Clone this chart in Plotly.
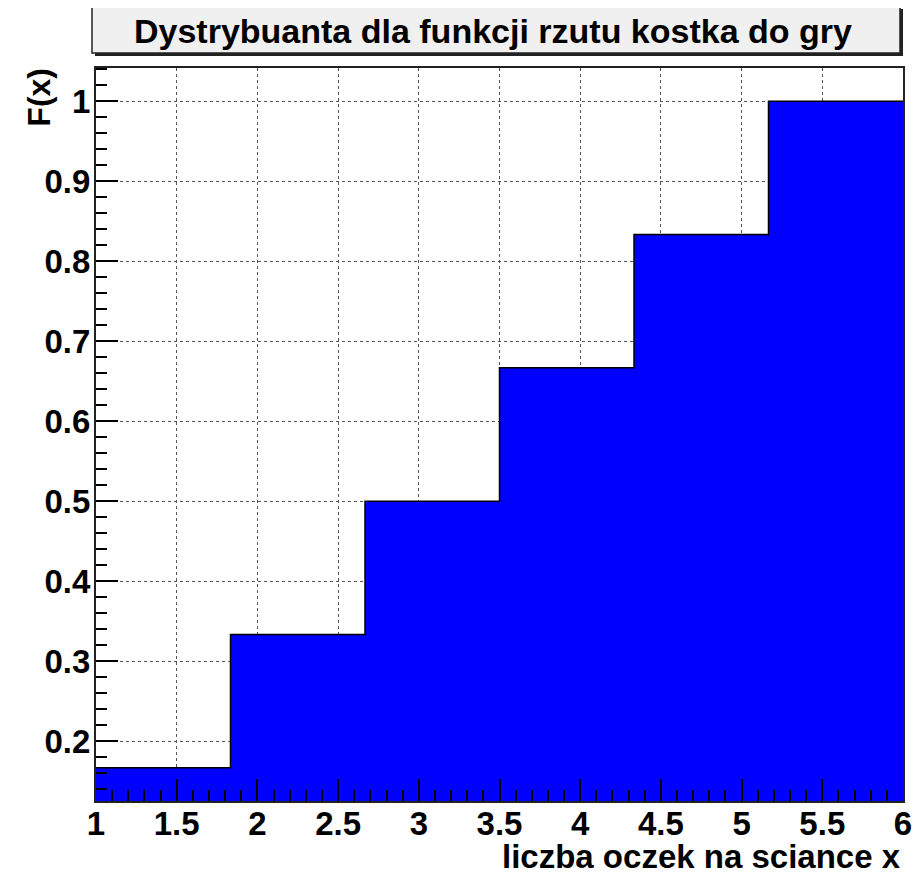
import plotly.graph_objects as go

# Data: cumulative distribution of a fair die, 6 bins from 1 to 6
bin_edges = [1.0, 1 + 5/6, 1 + 10/6, 1 + 15/6, 1 + 20/6, 1 + 25/6, 6.0]
cdf_values = [1/6, 2/6, 3/6, 4/6, 5/6, 6/6]

title_text = "Dystrybuanta dla funkcji rzutu kostka do gry"
x_title = "liczba oczek na sciance x"
y_title = "F(x)"

OFF = 8  # browser body margin
W, H = 924 - OFF, 874 - OFF
L, R, T, B = 96, 905, 68, 801  # plot frame in page pixels

def px(x):
    return (x - L) / (R - L)

def py(y):
    return (B - y) / (B - T)

centers = [(bin_edges[i] + bin_edges[i + 1]) / 2 for i in range(len(cdf_values))]
widths = [bin_edges[i + 1] - bin_edges[i] for i in range(len(cdf_values))]

FONT = "Liberation Sans, Arial, Helvetica, sans-serif"

fig = go.Figure()
fig.add_trace(go.Bar(x=centers, y=cdf_values, width=widths,
                     marker=dict(color="#0000ff", line=dict(width=0)),
                     hoverinfo="skip", showlegend=False))
fig.add_trace(go.Scatter(x=bin_edges, y=cdf_values + [cdf_values[-1]],
                         mode="lines", line=dict(color="black", width=1.5, shape="hv"),
                         hoverinfo="skip", showlegend=False))

ymin = cdf_values[0] - 0.05 * (cdf_values[-1] - cdf_values[0])
ymax = cdf_values[-1] + 0.05 * (cdf_values[-1] - cdf_values[0])

tick_font = dict(family=FONT, size=33, weight="bold", color="black")

fig.update_layout(
    width=W, height=H,
    margin=dict(l=L - OFF, r=924 - R, t=T - OFF, b=874 - B, pad=0),
    paper_bgcolor="white", plot_bgcolor="white",
    bargap=0,
    font=dict(family=FONT, color="black"),
    xaxis=dict(range=[bin_edges[0], bin_edges[-1]], tick0=1, dtick=0.5,
               ticks="inside", ticklen=22, tickwidth=1.5, tickcolor="black",
               minor=dict(dtick=0.1, ticks="inside", ticklen=11, tickwidth=1.5, tickcolor="black", showgrid=False),
               showgrid=True, gridcolor="#555", griddash="dot", gridwidth=1,
               showline=True, linecolor="#222", linewidth=2, mirror=True,
               zeroline=False, tickfont=tick_font, layer="above traces",
               ticklabelstandoff=-8),
    yaxis=dict(range=[ymin, ymax], tick0=0, dtick=0.1,
               ticks="inside", ticklen=22, tickwidth=1.5, tickcolor="black",
               minor=dict(dtick=0.02, ticks="inside", ticklen=11, tickwidth=1.5, tickcolor="black", showgrid=False),
               showgrid=True, gridcolor="#555", griddash="dot", gridwidth=1,
               showline=True, linecolor="#222", linewidth=2, mirror=True,
               zeroline=False, tickfont=tick_font, layer="above traces",
               ticklabelstandoff=-3),
    shapes=[
        dict(type="rect", xref="paper", yref="paper", layer="below",
             x0=px(95), x1=px(905), y0=py(56), y1=py(9),
             fillcolor="#222", line=dict(width=0)),
        dict(type="rect", xref="paper", yref="paper",
             x0=px(92), x1=px(902), y0=py(53), y1=py(6),
             fillcolor="#f0f0f0", line=dict(color="#222", width=1.5)),
    ],
    annotations=[
        dict(text=title_text, xref="paper", yref="paper", x=px(494), y=py(31),
             xanchor="center", yanchor="middle", showarrow=False,
             font=dict(family=FONT, size=34, weight="bold", color="black")),
        dict(text=x_title, xref="paper", yref="paper", x=px(905), y=py(856),
             xanchor="right", yanchor="middle", showarrow=False,
             font=dict(family=FONT, size=33, weight="bold", color="black")),
        dict(text=y_title, xref="paper", yref="paper", x=px(39), y=py(66),
             xanchor="center", yanchor="top", textangle=-90, showarrow=False,
             font=dict(family=FONT, size=32, weight="bold", color="black")),
    ],
)

fig.write_html("out.html")
